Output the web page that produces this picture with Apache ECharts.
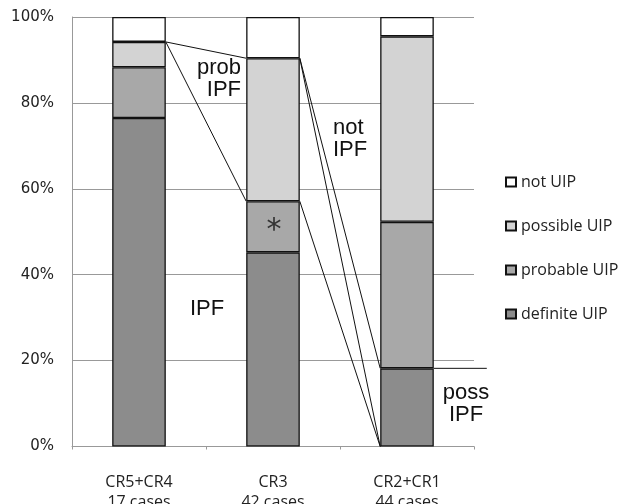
<!DOCTYPE html>
<html>
<head>
<meta charset="utf-8">
<script src="https://cdn.jsdelivr.net/npm/echarts@6/dist/echarts.min.js"></script>
<style>
html,body{margin:0;padding:0;background:#fff;}
#chart{width:624px;height:504px;}
</style>
</head>
<body>
<div id="chart"></div>
<script>
// ---- data ----
var categories = ['CR5+CR4\n17 cases', 'CR3\n42 cases', 'CR2+CR1\n44 cases'];
var definiteUIP = [76.5, 45.2, 18.2];
var probableUIP = [11.8, 11.9, 34.1];
var possibleUIP = [5.9, 33.3, 43.2];
var notUIP = [5.8, 9.6, 4.5];
var yTicks = [0, 20, 40, 60, 80, 100];
// connector lines: [fromCategory, fromValue, toCategory, toValue]
var connectors = [
  [0, 94.2, 1, 90.4],
  [0, 94.2, 1, 57.1],
  [1, 90.4, 2, 0],
  [1, 90.4, 2, 18.2],
  [1, 57.1, 2, 0]
];
// bracket line for "poss IPF": [category, value]
var bracket = [[2, 18.2]];

var chart = echarts.init(document.getElementById('chart'), null, {renderer: 'canvas'});
var barBorder = {borderColor: '#111', borderWidth: 1.3};
var BAR_FRAC = 0.4;

function barSeries(name, data, color) {
  return {
    name: name, type: 'bar', stack: 'all', data: data, barWidth: '40%',
    itemStyle: Object.assign({color: color}, barBorder),
    emphasis: {disabled: true}, z: 2
  };
}

var option = {
  backgroundColor: '#fff',
  animation: false,
  grid: {left: 72, right: 150, top: 17, bottom: 57.5, containLabel: false, outerBoundsMode: 'none'},
  legend: {
    orient: 'vertical', left: 500, top: 167,
    itemWidth: 10, itemHeight: 9, itemGap: 24,
    icon: 'rect',
    data: ['not UIP', 'possible UIP', 'probable UIP', 'definite UIP'],
    textStyle: {fontFamily: 'Open Sans', fontSize: 16, color: '#222', lineHeight: 20},
    selectedMode: false
  },
  xAxis: {
    type: 'category', data: categories,
    axisLine: {show: true, lineStyle: {color: '#999', width: 1}},
    axisTick: {show: true, length: 3, alignWithLabel: false, lineStyle: {color: '#999'}},
    axisLabel: {fontFamily: 'Open Sans', fontSize: 16, lineHeight: 20, color: '#222', margin: 26},
    splitLine: {show: false}
  },
  yAxis: {
    type: 'value', min: 0, max: 100, interval: 20,
    axisLine: {show: true, lineStyle: {color: '#999', width: 1}},
    axisTick: {show: false},
    axisLabel: {
      fontFamily: 'DejaVu Sans', fontSize: 15, color: '#222', margin: 18,
      formatter: function (v) { return yTicks.indexOf(v) >= 0 ? v + '%' : ''; }
    },
    splitLine: {show: true, lineStyle: {color: '#999', width: 1}}
  },
  series: [
    barSeries('definite UIP', definiteUIP, '#8c8c8c'),
    barSeries('probable UIP', probableUIP, '#a8a8a8'),
    barSeries('possible UIP', possibleUIP, '#d3d3d3'),
    barSeries('not UIP', notUIP, '#ffffff'),
    {
      type: 'custom', name: 'connectors', data: connectors, z: 5, silent: true,
      renderItem: function (params, api) {
        var half = api.size([1, 0])[0] * BAR_FRAC / 2;
        var p1 = api.coord([api.value(0), api.value(1)]);
        var p2 = api.coord([api.value(2), api.value(3)]);
        return {
          type: 'line',
          shape: {x1: p1[0] + half, y1: p1[1], x2: p2[0] - half, y2: p2[1]},
          style: {stroke: '#111', lineWidth: 1}
        };
      }
    },
    {
      type: 'custom', name: 'bracket', data: bracket, z: 5, silent: true,
      renderItem: function (params, api) {
        var half = api.size([1, 0])[0] * BAR_FRAC / 2;
        var p = api.coord([api.value(0), api.value(1)]);
        return {
          type: 'line',
          shape: {x1: p[0] + half, y1: p[1], x2: p[0] + half + 53, y2: p[1]},
          style: {stroke: '#111', lineWidth: 1}
        };
      }
    }
  ],
  graphic: [
    {type: 'text', x: 241, y: 56.5, style: {text: 'prob\nIPF', align: 'right', verticalAlign: 'top', font: '22px "Liberation Sans"', lineHeight: 22, fill: '#111'}},
    {type: 'text', x: 333, y: 116.5, style: {text: 'not\nIPF', align: 'left', verticalAlign: 'top', font: '22px "Liberation Sans"', lineHeight: 22, fill: '#111'}},
    {type: 'text', x: 190, y: 298, style: {text: 'IPF', align: 'left', verticalAlign: 'top', font: '22px "Liberation Sans"', lineHeight: 22, fill: '#111'}},
    {type: 'text', x: 466, y: 381.5, style: {text: 'poss\nIPF', align: 'center', verticalAlign: 'top', font: '22px "Liberation Sans"', lineHeight: 22, fill: '#111'}},
    {type: 'text', x: 274, y: 231, style: {text: '*', align: 'center', verticalAlign: 'middle', font: '30px "DejaVu Sans"', fill: '#333'}, z: 10}
  ]
};
chart.setOption(option);
</script>
</body>
</html>
